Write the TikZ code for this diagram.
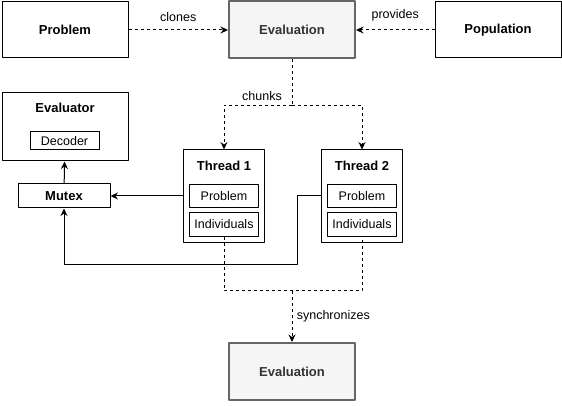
\documentclass[tikz,border=0pt]{standalone}
\usepackage{fontspec}
\setmainfont{Liberation Sans}
\usetikzlibrary{calc,arrows.meta}
\begin{document}
\begin{tikzpicture}[x=1pt,y=-1pt,>={Stealth[length=7.5pt,width=7pt,inset=2.5pt]},line join=round,
    font=\fontsize{12.5}{15}\selectfont,
    box/.style={draw,line width=1pt,inner sep=0pt,minimum width=126pt,minimum height=56pt,font=\fontsize{13}{15}\selectfont\bfseries},
    evalbox/.style={box,draw=black!60,fill=black!4,text=black!80,line width=2pt,minimum height=57pt},
    inbox/.style={draw,line width=1pt,inner sep=0pt,minimum width=69pt,minimum height=23pt},
    title/.style={font=\fontsize{13}{15}\selectfont\bfseries,inner sep=0pt},
    link/.style={line width=1pt,->},
    flow/.style={link,dash pattern=on 3pt off 3pt}]
    \useasboundingbox (0,0) rectangle (562,406);
    \node[box] (prob) at (65,30) {Problem};
    \node[evalbox] (evtop) at (292,30) {Evaluation};
    \node[box] (pop) at (498,30) {Population};
    \node[box,minimum height=68pt] (evaluator) at (65,127) {};
    \node[title] (evtitle) at (65,108) {Evaluator};
    \node[inbox,minimum height=18pt] (decoder) at (64.5,141) {Decoder};
    \node[box,minimum width=92pt,minimum height=24pt] (mutex) at (64,196) {Mutex};
    \foreach \i/\x in {1/224,2/362} {
        \node[box,minimum width=81pt,minimum height=92pt] (th\i) at (\x,196) {};
        \node[title] at (\x,166) {Thread \i};
        \node[inbox] (pr\i) at (\x,196) {Problem};
        \node[inbox] (ind\i) at (\x,224.5) {Individuals};
    }
    \node[evalbox] (evbot) at (292,371.5) {Evaluation};
    % top row
    \draw[flow] (prob) -- (evtop) node[midway,above=5pt] {clones};
    \draw[flow] (pop) -- (evtop) node[midway,above=5pt] {provides};
    % chunks to threads
    \draw[flow,-] (evtop.south) -- ++(0,46) coordinate (ck);
    \draw[flow] (ck) -| (th1.north);
    \draw[flow] (ck) -| (th2.north);
    \node[anchor=south east,inner sep=2pt] at ($(ck)+(-8,-3)$) {chunks};
    % mutex
    \draw[link] (mutex) -- (evaluator);
    \draw[link] (th1.west) -- (mutex.east);
    \draw[link] (th2.west) -| ++(-24,68) -| (mutex.south);
    % synchronizes
    \draw[flow,-] (ind1.south) -- ++(0,54) coordinate (s1) -| (ind2.south);
    \draw[flow] (s1 -| evbot.north) -- (evbot.north) node[midway,right=1pt] {synchronizes};
\end{tikzpicture}
\end{document}
